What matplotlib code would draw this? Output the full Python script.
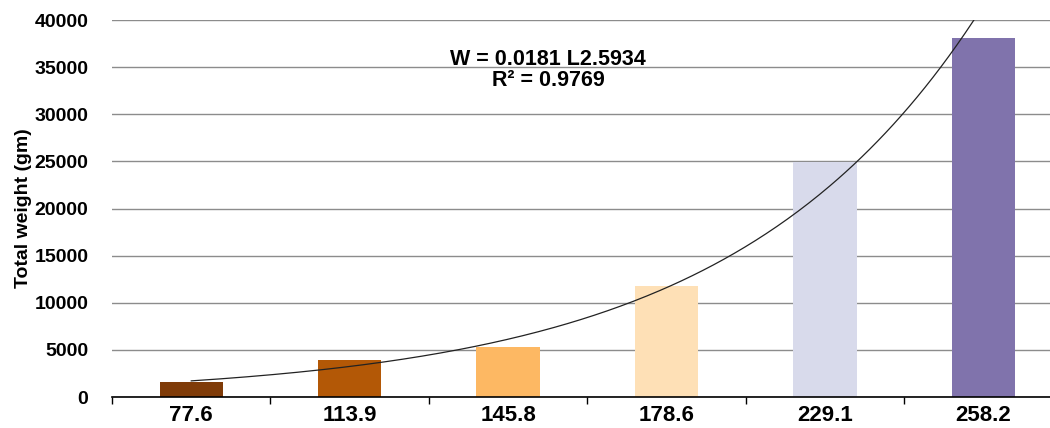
import numpy as np
import matplotlib
matplotlib.use("Agg")
import matplotlib.pyplot as plt

plt.rcParams['font.family'] = ['Liberation Sans', 'DejaVu Sans']

# length classes (x labels) and total weight per class
lengths = ["77.6", "113.9", "145.8", "178.6", "229.1", "258.2"]
weights = [1560, 3930, 5270, 11800, 24900, 38100]
colors = ["#7f3b08", "#b35806", "#fdb863", "#fee0b6", "#d8daeb", "#8073ac"]

eq_text = "W = 0.0181 L2.5934"
r2_text = "R² = 0.9769"

fig = plt.figure(figsize=(10.5, 4.28), dpi=100)
ax = fig.add_axes([0.1067, 0.0724, 0.8933, 0.8806])

x = np.arange(len(lengths))
ax.bar(x, weights, width=0.4, color=colors, zorder=2)

# trendline fitted to the bars (excel style, on category index)
b, a = np.polyfit(x + 1, np.log(weights), 1)
xs = np.linspace(0, len(lengths) - 1, 300)
ax.plot(xs, np.exp(a + b * (xs + 1)), color="#222222", lw=0.9, zorder=3)

ax.set_ylim(0, 40000)
ax.set_xlim(-0.5, 5.42)
ax.set_yticks(range(0, 40001, 5000))
ax.yaxis.grid(True, color="#8c8c8c", lw=1.0, zorder=0)
ax.set_axisbelow(True)

ax.set_xticks(x)
ax.set_xticklabels(lengths, fontsize=16, fontweight="bold")
ax.set_xticks(np.arange(-0.5, 5.5, 1), minor=True)
ax.tick_params(axis="x", which="major", length=0, pad=6)
ax.tick_params(axis="x", which="minor", length=5, width=1, direction="out", color="black")
ax.tick_params(axis="y", length=0, pad=17, labelsize=14)
for lab in ax.get_yticklabels():
    lab.set_fontweight("bold")

for s in ["top", "right", "left"]:
    ax.spines[s].set_visible(False)
ax.spines["bottom"].set_linewidth(1.2)

ax.set_ylabel("Total weight (gm)", fontsize=14, fontweight="bold", labelpad=2)

fig.text(0.522, 0.862, eq_text, ha="center", va="center", fontsize=15.5, fontweight="bold")
fig.text(0.522, 0.812, r2_text, ha="center", va="center", fontsize=15.5, fontweight="bold")

fig.savefig("out.png", dpi=100)
